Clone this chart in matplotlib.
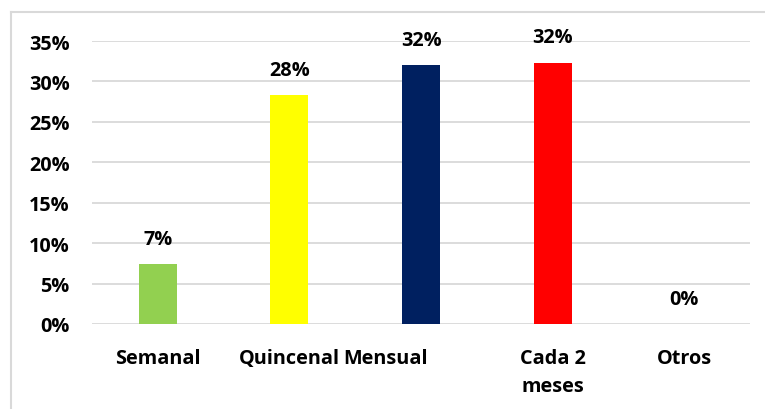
import matplotlib
matplotlib.use("Agg")
import matplotlib.pyplot as plt
import matplotlib.transforms as mtransforms
from matplotlib.lines import Line2D

# frecuencia de compra
categorias = ["Semanal", "Quincenal", "Mensual", "Cada 2\nmeses", "Otros"]
porcentajes = [7.4, 28.3, 32.0, 32.3, 0.0]
colores = ["#92d050", "#ffff00", "#002060", "#ff0000", "#ffc000"]
ticks_y = [0, 5, 10, 15, 20, 25, 30, 35]

plt.rcParams["font.family"] = ["Open Sans", "DejaVu Sans"]
plt.rcParams["font.weight"] = "bold"
fs = 14.3

fig = plt.figure(figsize=(7.65, 4.10), dpi=100)
ax = fig.add_axes([92 / 765, 1 - 325 / 410, (750 - 92) / 765, (325 - 42) / 410])

x = range(len(categorias))
ax.bar(x, porcentajes, width=0.29, color=colores, zorder=3)

for xi, v in zip(x, porcentajes):
    ax.text(xi, v + 1.9, "%d%%" % round(v), ha="center", va="bottom",
            fontsize=fs, fontweight="bold", color="black")

ax.set_xlim(-0.5, len(categorias) - 0.5)
ax.set_ylim(0, 35)
ax.set_yticks(ticks_y)
ax.set_yticklabels(["%d%%" % t for t in ticks_y])
ax.set_xticks(list(x))
ax.set_xticklabels(categorias, va="top", linespacing=1.5)
ax.tick_params(axis="both", length=0, labelsize=fs, colors="black")
ax.tick_params(axis="x", pad=17.5)
ax.tick_params(axis="y", pad=16)
for lbl in ax.get_xticklabels() + ax.get_yticklabels():
    lbl.set_fontweight("bold")

# "Mensual" queda corrida a la izquierda, pegada a "Quincenal"
lbl_mensual = ax.get_xticklabels()[2]
lbl_mensual.set_transform(lbl_mensual.get_transform() +
                          mtransforms.ScaledTranslation(-35 / 100, 0, fig.dpi_scale_trans))

ax.grid(axis="y", color="#d9d9d9", linewidth=1.3, zorder=0)
for s in ax.spines.values():
    s.set_visible(False)

# marco del grafico (solo visible arriba e izquierda)
fig.add_artist(Line2D([10.5 / 765, 10.5 / 765], [0, 1 - 13 / 410],
                      transform=fig.transFigure, color="#d9d9d9", lw=1.5))
fig.add_artist(Line2D([10.5 / 765, 1], [1 - 13 / 410, 1 - 13 / 410],
                      transform=fig.transFigure, color="#d9d9d9", lw=1.5))

fig.savefig("out.png", dpi=100)
